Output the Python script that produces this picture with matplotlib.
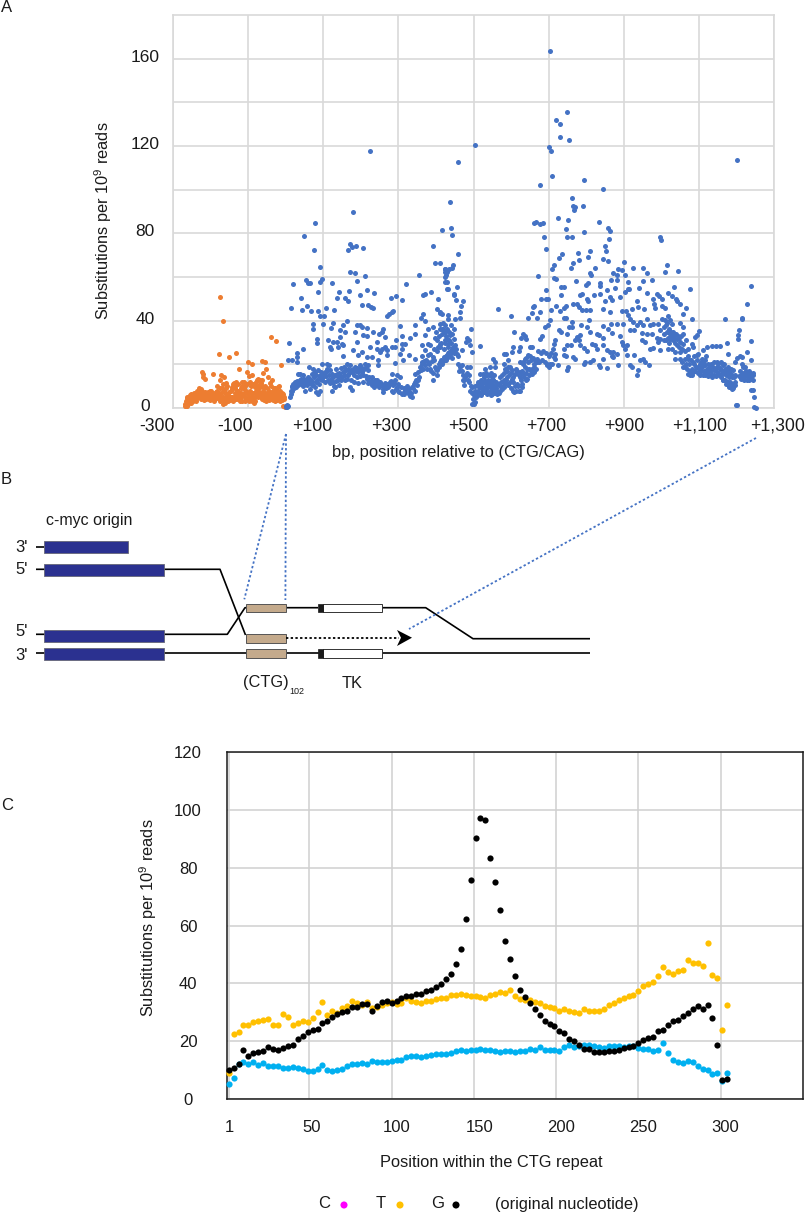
import matplotlib
matplotlib.use('Agg')
import matplotlib.pyplot as plt
from matplotlib.patches import Rectangle, Polygon
from matplotlib.transforms import ScaledTranslation

plt.rcParams['font.family'] = ['Liberation Sans', 'DejaVu Sans']
plt.rcParams['mathtext.default'] = 'regular'

# Panel A, upstream of the repeat
orange_pts = [(-268,2),(-267,1),(-266,3),(-265,1),(-264,0.8),(-263,4.5),(-262,3),(-260,2),(-258,5),(-256,3.5),(-254,4),(-252,6.5),(-250,4),(-248,3),(-247,5.5),(-245,7),(-243,3.5),(-241,5),(-239,6),(-237,8),(-235,4.5),(-233,7.5),(-231,9),(-229,5),(-227,6.5),(-225,8.5),(-223,4.5),(-221,6),(-219,7),(-217,5),(-215,7.5),(-213,4),(-211,6),(-209,7),(-207,5),(-205,4),(-203,6),(-201,8),(-199,5),(-197,6.5),(-195,4.5),(-193,7),(-191,5.5),(-189,4),(-187,6),(-185,7.5),(-183,10),(-181,5),(-179,4.5),(-177,6.5),(-175,9),(-173,5),(-171,7),(-169,4),(-167,2),(-165,8),(-163,3),(-161,2.5),(-159,5),(-157,10),(-155,4),(-153,3),(-151,5),(-149,4),(-147,3.5),(-145,8),(-143,5),(-141,4),(-139,3),(-137,5),(-135,9),(-133,4),(-131,5),(-129,6),(-127,4),(-125,5),(-123,4.5),(-121,3),(-119,5),(-117,10),(-115,3),(-113,6),(-111,9),(-109,5),(-107,3),(-105,4),(-103,7),(-101,4),(-99,3),(-97,5),(-95,4),(-93,7),(-91,3),(-89,5),(-87,4),(-85,2.5),(-83,5),(-81,3),(-79,8),(-77,6),(-75,10),(-73,5),(-71,6),(-69,11),(-67,5),(-65,7),(-63,4),(-61,5),(-59,3.5),(-57,6),(-55,4.5),(-53,3),(-51,5),(-49,7),(-47,5),(-45,3.5),(-43,5),(-41,6.5),(-39,4),(-37,5),(-35,3.5),(-33,5.5),(-31,7),(-29,3),(-27,5),(-25,4),(-23,3.5),(-21,6),(-19,4),(-17,5),(-15,3),(-13,5),(-11,4.5),(-9,3.5),(-7,1),(-5,5),(-3,0.5),
    (-224,16.6),(-221,15.5),(-219,14),(-216,13.5),(-193,15.5),(-176,13),(-171,15),(-168,11),(-163,14),(-158,11.5),(-144,9.5),(-138,11.5),(-132,12),(-126,8),(-119,9),(-112,12),(-108,10),(-103,16.5),(-98,14.5),(-90,15),(-88,11),(-83,9.5),(-79,12),(-73,13.5),(-66,11.5),(-62,13),(-60,16),(-56,10),(-52,18),(-47,14),(-42,11.5),(-36,13),(-28,9),(-21,9.5),(-17,10),(-16,8),
    (-174,51),(-168,40),(-38,32.5),(-27,30.7),(-178,24.6),(-151,23.2),(-131,25),(-100,21),(-91,20),(-64,21.5),(-55,21),(-12,19.7),(-124,18),
    (-262,5),(-259,3.5),(-255,6),(-251,2.5),(-246,4),(-242,6.5),(-238,3),(-234,6),(-230,7),(-226,4),(-222,8),(-218,3.5),(-214,6),(-210,4.5),(-206,7.5),(-202,3.5),(-198,8),(-194,6),(-190,3),(-186,4.5),(-182,8),(-178,7),(-174,3),(-170,9),(-166,5),(-162,7),(-158,9),(-154,6),(-150,7.5),(-146,5),(-142,8.5),(-140,11),(-136,7),(-134,10),(-130,8),(-128,11),(-122,6.5),(-118,7),(-116,12),(-114,9),(-110,7),(-106,8),(-104,11),(-100,6.5),(-96,8),(-94,12),(-92,10),(-86,7),(-82,7),(-78,10),(-76,13),(-74,8),(-70,9),(-68,13),(-64,10),(-60,8),(-58,9),(-54,7),(-50,9),(-46,7),(-44,8),(-40,10),(-38,7),(-34,8),(-32,9),(-30,6),(-26,7),(-24,6),(-22,8),(-20,7),(-18,7),(-14,6),(-10,7),(-8,5),(-6,6.5),(-4,4)]

# Panel A, first part of the amplicon
blue_left = [(0,0.5),(2,1),(3,1.5),(4,0.3),(6,0.8),(7,22.1),(9,29.6),(11,5),(13,6.6),(16,8),(18,9.6),(18,21.8),(20,10.8),(24,11.5),(29,11),(29,23.4),(29,21),(31,25.2),(33,15.7),(36,12),(38,15.4),(42,13.4),(47,15),(47,26.9),(51,12.7),(51,8),(56,11.9),(60,14.2),(63,19),(64,8.9),(69,15.7),(69,10.4),(73,18),(78,16.5),(78,9.6),(82,15),(82,7.3),(87,17.3),(87,6.6),(91,13.4),(91,8),(96,20.3),(96,15.7),(100,14.2),(105,16.5),(109,20.3),(109,18),(114,19.5),(118,17.3),(122,15.7),(124,7.8),(127,11.9),(131,9.6),(136,15.7),(140,12.7),(145,15),(153,16.5),(158,12.7),(162,20.3),(167,15),(171,19.5),(171,9.6),(176,16.5),(176,8.4),(184,18.8),(189,14.2),(193,16.5),(198,19.5),(202,18),(207,15),(211,20.3),(216,13.4),(220,19.5),(220,17.3),(224,11.9),(229,14.2),(238,12.7),(242,10.4),(247,19.5),(256,10.4),(260,8.9),(269,11),(278,11.9),(282,15.7),(287,10.4),(287,7.3),(291,12.7),(296,15),(296,9.6),(300,8),(304,14.2),(309,6.6),(318,8.4),(327,6.6),(335,9.6),(337,5),(345,11.9),(345,15.7),(353,12.7),(353,16.5),(362,20.3),(371,19.5),(380,21),(384,18),(393,12.7),(402,17.3),(407,18.8),(416,20.3),(424,21.8),(433,23.4),
    (13,45.6),(20,56.6),(40,50.5),(43,44.7),(54,58.8),(57,46.9),(60,57.4),(66,57.3),(68,44.3),(73,38.3),(73,36.2),(76,72.2),(84,31.8),(84,29.8),(86,44.3),(87,53),(91,64.6),(91,57.7),(91,42.3),(98,59.2),(100,38.6),(102,42),(106,45.6),(113,31),(118,27.9),(120,36.8),(120,26.9),(124,57.3),(125,30.2),(127,39),(129,44.7),(136,50.5),(136,30.2),(140,27.9),(143,53),(145,35.6),(145,32.5),(149,29.5),(152,23.7),(153,37.9),(153,28.7),(158,50.5),(158,34.8),(162,40),(167,72.5),(167,49),(169,53.7),(171,75),(171,62.4),(176,73.7),(180,26.4),(184,61.8),(184,34.8),(187,74.2),(189,37.9),(189,30.2),(191,58),(193,24.4),(198,51.6),(198,37.9),(202,47.3),(202,37),(202,25.6),(207,73.3),(207,33.3),(211,60.5),(216,54.2),(216,36.8),(216,23.4),(217,32.8),(220,47),(224,27.9),(227,46.3),(229,23.4),(233,45.8),(233,34.8),(236,52.5),(242,30.2),(244,27.2),(247,21.8),(249,34),(251,25.6),(256,35),(256,27.2),(260,36.3),(264,32.5),(264,27.9),(269,42),(269,26.4),(269,24.1),(274,43),(280,50.2),(282,44),(282,27.9),(287,44.3),(291,27.9),(291,20.8),(293,51.1),(294,31.3),(303,24.9),(304,37.6),(309,49.6),(309,33),(309,29.2),(309,26.9),(312,22.1),(318,29.5),(320,56.6),(327,24.1),(331,32),(343,38),(345,33.7),(345,22.6),(355,60.8),(361,41.2),(362,28.7),(362,23.7),(365,51.9),(365,43),(371,52),(371,40),(371,33.3),(371,26.4),(380,36.3),(380,29.5),(384,28.7),(384,24.9),(387,53),(392,74.4),(393,37),(393,23.4),(398,66.6),(402,31),(404,45.5),(405,49.8),(411,66.6),(411,44),(411,38.6),(411,29.5),(416,43),(420,36.3),(424,63.8),(425,60),(425,34.8),(429,62.3),(429,57.7),(429,54.7),(429,31.8),(429,24.1),(436,63.8),(438,24.9)]

# Panel A, dense low band of the first part
blue_left_band = [(14,8),(17,10),(22,9),(25,12),(27,9.5),(31,12.5),(34,10.5),(37,13),(40,11),(43,12),(46,10),(49,13.5),(52,11),(55,13),(58,10.5),(61,12),(64,13.5),(67,11.5),(70,12.5),(74,10.5),(76,14),(80,12),(84,13),(88,11),(90,14.5),(94,16.5),(98,13),(102,15.5),(104,12),(107,14.5),(111,17),(112,13),(115,15),(117,11.5),(120,13.5),(123,12),(126,14),(128,10),(130,15),(133,12.5),(135,18),(138,14),(141,16),(143,10.5),(146,13),(148,18.5),(150,14),(155,19),(157,15),(160,17.5),(164,13.5),(166,18),(169,16),(173,17.5),(175,13),(178,18),(181,15),(183,12),(186,17),(190,18.5),(192,11.5),(195,18),(197,14.5),(200,19),(204,16.5),(206,12),(209,18),(213,14.5),(215,19),(218,11.5),(222,14),(226,12.5),(231,10.5),(234,12),(236,9.5),(240,11.5),(244,13),(248,9.5),(251,12),(254,11),(258,7.5),(262,10),(265,11.5),(267,9),(271,11),(273,9.5),(276,10.5),(280,12.5),(284,8),(289,11.5),(293,8.5),(298,11),(302,7.5),(306,9.5),(311,7),(314,9),(316,6.5),(320,8),(323,10),(325,7.5),(329,8.5),(332,5.5),(334,7),(339,9),(341,11),(343,8),(347,13),(350,10.5),(356,14),(358,19),(360,17.5),(364,21),(366,18),(368,21.5),(373,22),(375,18),(378,24.5),(382,20),(386,17),(389,21.5),(391,16),(395,22),(397,19),(400,18),(404,15),(409,20),(413,22),(418,21.5),(421,23.5),(426,22),(428,24),(431,25),(435,25.5),(440,26),(443,27),
    (395,27),(398,32),(401,35),(403,26),(406,28),(408,33),(412,36),(414,30),(417,34),(419,39),(421,27),(423,30),(425,38),(427,33),(430,36),(432,28),(434,35),(436,31),(439,38),(441,30),(443,34),(446,28),(448,36),(450,29)]

# Panel A, rest of the amplicon
blue_right = [(460,70.4),(424,63.8),(423,62.3),(445,65.3),(442,64.3),(428,60.8),(425,57.7),(431,54.4),(447,52.4),(449,51.6),(456,55.4),(454,49.3),(472,48.9),(467,46.6),(465,44),(465,41.2),(451,40.9),(433,42.4),(433,40.9),(411,43.5),(493,36),(482,32.2),(487,31),(480,30.2),(491,28.7),(518,28.2),(496,25.6),(469,26.4),(565,45.5),(599,42.1),(608,34.8),(631,33.7),(637,32.8),(627,32.2),(640,31.8),(605,28),(624,28),(620,26),(651,28),(655,28),(644,41.2),(655,43.7),(661,46.6),(668,41.2),(673,60.5),(693,72.7),(851,74.2),(853,71.9),(735,70.7),(727,68.9),(715,65.3),(708,63.5),(777,71.1),(810,71.8),(805,69.2),(782,68),(766,66.6),(759,64.1),(846,68.4),(859,67.2),(824,64.3),(810,62),(814,60.8),(900,66.9),(885,63.8),(896,63),(924,64.1),(950,64.3),(963,61.8),(1014,65.3),(1010,62.3),(1045,62.7),
    (713,59.5),(720,58.9),(872,62),(881,60.8),(867,58.5),(881,58.5),(903,60.8),(911,57.7),(950,58),(976,58.5),(837,57.4),(837,55.9),(804,57.4),(800,56.2),(774,58.2),(741,55.4),(734,55.4),(1035,55.4),(1077,54.7),(1017,52.8),(962,52.8),(941,55),(910,54.4),(914,54.4),(903,53),(988,52.4),(993,51.3),(979,50),(1002,49.8),(1028,51.3),(1038,50),(1043,49),(1049,47.8),(1067,45.8),(1058,43.2),(1083,40.6),(981,47.5),(983,46),(1003,46.6),(1010,46),(694,53.9),(681,49.8),(692,49.8),(699,49.8),(733,51.9),(677,44),(658,46.3),(707,44.7),(720,46.6),(741,46),(730,44.3),(747,46.9),(766,47.5),(784,51.6),(788,52.4),(775,47.8),(781,46.3),(788,44.7),(801,50),(805,49),(799,44.7),(810,45),(822,51.6),(838,52),(855,53.9),(864,50.8),(868,49.6),(877,55),(889,50.8),(851,49),(846,45.2),(863,44),(895,44.4),(906,44.3),(921,45.2),(934,49),(953,45.2),(939,46.3),(910,42.4),(917,40.9),(925,39.4),
    (740,41.4),(745,41.4),(704,40.5),(699,37.9),(691,37),(761,39.4),(755,37),(728,35.9),(733,35),(763,37),(785,37.9),(807,40.5),(803,37),(846,37.6),(865,38.7),(859,36),(869,34.5),(881,38.6),(899,38.3),(890,32.8),(828,34),(835,33.3),(846,32.2),(809,34.8),(784,33.3),(775,32.5),(748,33.7),(682,32.8),(677,31.8),(713,29.5),(718,31),(917,35.9),(926,35.6),(934,37.9),(943,39.4),(952,37.9),(961,40.9),(970,37.9),(979,38.6),(992,38.6),(1001,40.9),(1010,40.1),(1019,42),(1023,40.1),(1028,38.6),(997,35.6),(1006,37),(1014,34.8),(948,34.3),(961,34),(975,34),(988,32.2),(997,31.8),(1023,34),(1032,34.8),(1050,38.9),(1059,37),(1057,34),(1094,33.3),(1090,32.5),(1101,35.3),
    (895,30.2),(899,28.7),(908,28.7),(948,31),(957,30.2),(992,30.2),(1023,31.8),(1032,31),(1041,31.8),(1050,30.2),(1059,29.5),(1067,31),(1081,29.5),(1085,28),(970,27.2),(979,27.6),(997,26.4),(1019,27.2),(1028,27.2),(1037,25.6),(1050,25.6),(1099,24.9),(1121,28),(1134,28.4),(1145,28.4),(1156,28.2),(1176,29.8),(1170,40.9),(1214,41.4),(1216,40.9),(1229,47.5),(1239,56),(1207,35.6),(1205,33.6),(1203,31.8),(1238,30.7),(1227,25.6),(1178,24.6),(1239,21.8),(1209,23.7),(1202,23),(1214,23.4),(1197,21),
    (748,28.7),(759,28.7),(771,31),(780,31),(784,28.7),(793,27.6),(803,26),(815,29.5),(824,28.7),(828,27.2),(846,28.7),(855,26.4),(864,25.6),(872,25.6),(881,24.9),(740,27.2),(740,24.1),(745,23.7),(717,24.9),(713,23.4),(766,23.4),(771,22.6),(798,21),(793,20.3),(819,21.8),(810,21),(833,19.5),(837,18.8),(846,22.6),(855,18.5),(868,23.7),(872,23.4),(885,19.5),(903,27.2),(908,24.1),(917,19.5),(921,18.8),(928,24.1),(934,15),(939,17.3),(943,21.8),(952,22.6),(957,21),(968,19.5),
    (726,19.5),(752,19),(750,17.3),(695,19.5),(704,20.3),(717,22.6),(669,22.6),(660,20.3),(646,24.1),(637,22.6),(633,20.3),(649,18),(624,21),(602,25.6),(580,24.9),(586,24.6),(553,22.6),(558,21),(593,21.8),(593,18.8),(580,20.3),(602,17.3),(611,15.7),(624,16.5),(633,15.7),(640,12.7),(624,14.2),(615,11),(602,13.4),(589,14.2),(580,12.7),(571,14.2),(558,18.8),(544,18.8),(531,18),(518,15.7),(527,14.2),(536,15),(549,14.2),(553,12.7),(540,11.9),(527,11.9),(518,11),(509,10.4),(496,9.6),(475,10.4),(491,8),(513,8),(500,5.8),(509,7.3),(522,8.9),(531,9.6),(544,10.4),(558,9.6),(571,8),(562,6.6),(564,3.5),(549,6.6),(536,6.6),(527,7.3),(504,2.7),(500,2),(497,1.7),(580,9.6),(593,10.4),(606,8),(620,8),(628,9.6),(642,13.4),(655,15.7),(660,16.5),
    (482,18.8),(473,15),(478,14.2),(487,15),(469,19.5),(460,20.3),(491,18.8),(456,24.9),(438,24.9),(424,23.4),(411,21),(411,28),(433,29.5),(451,26.4),(420,35.6),(415,36.3),(438,33.3),(447,31.8),(424,31),
    (1063,18.8),(1072,15.7),(1077,15),(1085,16.5),(1099,18.8),(1108,22.6),(1112,21),(1117,19.5),(1121,18),(1125,16.5),(1130,18.8),(1134,15),(1139,17.3),(1148,21),(1148,16.5),(1156,18),(1161,15.7),(1165,19.5),(1170,18),(1174,16.5),(1178,18.8),(1183,15.7),(1187,14.2),(1192,17.3),(1165,12.7),(1174,11.9),(1181,9.6),(1187,8.9),(1196,10.4),(1198,1.5),(1202,1.2),(1214,15.7),(1218,18.8),(1223,16.5),(1227,15),(1231,15.7),(1236,14.2),(1245,15),(1240,8.4),(1245,8.4),(1247,5),(1246,0.5),(1252,0.2),(1072,22.6),(1085,21),(1094,24.1),(1103,20.3),(1050,22.6),(1037,22.6),(1063,22.6),(1072,27.2),(1112,26.4)]

# Panel A, dense low bands of the rest
blue_right_band = [(444,23),(448,25),(453,27),(458,24),(462,17),(464,19),(470,17),(472,13),(476,13),(479,15),(483,16),(485,13),(488,12),(493,10),(495,7),(499,4),(502,2.5),(503,8),(505,10),(507,5),(511,6),(512,12),(514,9.5),(516,7),(519,9.5),(520,13),(521,6),(523,11),(525,7.5),(526,15.5),(529,9),(530,12.5),(533,8),(534,16),(535,11),(537,9),(538,13),(539,7),(541,10),(542,15),(543,8),(545,12.5),(546,6),(547,16),(548,9),(550,11),(551,7),(552,13),(554,8),(555,15),(556,10.5),(557,7),(560,12),(561,9),(563,8),(566,11),(568,7),(570,10),(573,12),(575,8.5),(577,15),(578,10),(582,16),(584,11.5),(585,18),(587,13),(590,17),(591,11),(594,15),(596,12),(597,19),(599,9),(601,16),(604,12),(606,14),(608,7.5),(610,10),(612,18),(614,8),(617,17),(618,10),(621,15),(623,8),(626,13),(629,11),(630,17),(632,21),(635,14),(636,19),(639,16),(641,23),(643,18),(645,21),(647,15),(650,24),(652,17),(654,22),(657,18),(659,23),(662,19),(664,22),(666,18),(670,21),(672,26),(675,21),(679,25),(683,22),(686,26),(690,21),(693,25),(697,20),(700,24),(702,19),(706,25),(710,20),(712,27),
    (1012,38),(1016,39),(1020,36),(1025,35),(1027,33),(1030,32),(1034,33),(1036,30),(1039,34),(1042,29),(1044,33),(1046,28),(1048,32),(1052,33),(1055,27),(1006,34),(1008,31),(1012,31),(1017,32),(1021,30),
    (1054,21),(1058,19),(1062,26),(1066,20),(1068,18),(1070,24),(1074,20),(1076,17),(1079,22),(1081,18),(1083,15),(1087,20),(1088,24),(1090,17),(1092,19),(1096,22),(1097,16),(1101,18),(1103,15),(1105,21),(1106,17),(1109,19),(1110,15),(1113,17),(1115,22),(1116,15),(1118,24),(1120,16),(1123,20),(1124,14.5),(1127,18),(1128,15),(1131,20),(1133,17),(1135,14),(1137,19),(1140,15),(1141,21),(1143,18),(1145,14.5),(1147,19),(1150,16),(1152,20),(1154,15),(1155,18.5),(1158,14),(1159,21),(1162,17),(1163,13),(1167,16),(1168,20),(1169,13),(1172,15),(1173,11),(1176,17),(1177,12),(1179,14),(1180,10),(1182,17),(1184,12),(1185,18),(1186,10),(1188,15),(1189,11),(1191,9),(1193,14),(1195,12),(1197,15),(1208,14.5),(1210,17),(1212,13.5),(1215,20),(1217,14),(1219,16),(1221,13),(1222,19),(1224,14.5),(1226,17),(1228,13),(1230,16),(1232,14),(1233,17),(1234,13),(1237,16),(1238,13.5),(1241,15.5),(1243,16),(1244,13)]

# Panel A, high outliers
blue_top = [(48,78.8),(79,84.6),(178,89.7),(224,117.6),(703,163.7),(750,135.5),(720,132),(731,130),(731,123.9),(755,122.7),(700,119.5),(705,117.8),(504,120.4),(459,112.5),(1202,113.4),(709,106.4),(677,102),(794,104.4),(845,100.3),(437,94.5),(762,96.3),(765,92.5),(771,92),(768,90.8),(791,92.5),(726,87.2),(752,86),(662,84.6),(666,85.3),(676,84.3),(686,84.6),(833,85.2),(747,82),(794,80.8),(857,82.3),(864,81),(417,81.7),(439,82.3),(443,79.4),(689,78.2),(748,78.2),(763,78.2),(860,77.3),(997,78.5),(1000,76.8)]

a_xticks = [-300, -100, 100, 300, 500, 700, 900, 1100, 1300]
a_xlabels = ['-300', '-100', '+100', '+300', '+500', '+700', '+900', '+1,100', '+1,300']

# Panel C, one value per third position
positions = list(range(1, 305, 3))
c_black = [9.9,10.7,12.1,16.8,14.9,15.9,16.1,16.5,18.0,17.3,16.8,17.6,18.2,18.6,20.6,21.7,23.1,23.8,24.1,26.2,27.1,28.3,29.3,30.2,30.6,31.9,31.9,32.8,33.0,30.6,32.3,33.7,33.9,33.3,33.9,34.9,35.6,35.6,36.4,36.4,37.5,37.7,38.8,39.8,41.5,43.3,46.7,51.8,62.4,75.8,90.2,97.1,96.4,83.4,75.1,65.2,54.6,48.4,42.6,37.7,
    35.2,33.2,31.1,29.1,27.0,26.0,25.3,23.6,22.8,20.9,20.1,18.8,17.4,17.2,16.4,16.4,16.4,16.7,16.7,17.1,17.8,18.1,18.3,19.5,20.5,21.2,21.6,23.5,23.9,25.6,27.0,27.3,28.6,29.8,31.1,32.2,31.1,32.5,28.0,18.8,6.5,6.8]
c_yellow = [9.0,22.4,23.1,25.7,25.7,26.5,26.9,27.2,27.5,25.7,25.7,29.5,28.5,25.7,26.2,27.1,26.8,27.9,30.2,33.7,29.2,30.6,29.9,31.3,32.3,34.0,33.2,32.6,33.7,31.6,31.9,32.6,33.2,33.7,32.9,33.3,34.9,33.9,33.7,33.3,34.0,33.9,34.7,34.9,34.9,36.0,35.8,36.3,36.0,35.6,35.6,35.4,35.1,35.8,36.3,37.0,36.7,37.7,35.5,34.6,
    34.3,34.3,33.6,33.1,32.2,31.8,31.5,30.6,31.1,30.4,30.1,29.8,31.1,30.4,30.4,30.4,31.1,32.5,33.2,34.3,34.9,35.6,36.0,37.4,39.1,39.7,40.5,42.4,45.6,43.8,43.1,44.2,44.5,48.0,46.9,46.9,45.9,54.1,42.8,41.8,24.0,32.5]
c_blue = [5.3,7.3,12.2,12.8,12.1,12.7,11.8,12.3,11.4,11.3,11.3,10.7,10.7,11.1,10.7,10.4,9.7,9.7,10.4,11.6,10.0,9.7,10.0,10.4,11.4,12.1,12.1,12.3,12.1,13.0,12.8,12.8,12.8,13.1,13.5,13.5,14.5,14.9,14.9,14.5,14.9,15.2,15.6,15.6,15.6,15.9,16.6,17.0,16.6,17.0,17.0,17.3,17.0,17.0,16.6,16.3,16.6,16.6,
    16.4,16.7,16.7,17.4,17.1,18.1,17.1,17.1,17.1,16.7,18.1,18.8,18.1,18.5,18.8,18.8,18.5,18.1,17.8,18.5,18.5,18.5,18.0,18.5,18.5,17.8,17.4,17.4,16.7,17.1,19.5,16.0,13.6,12.9,12.6,13.3,12.9,11.5,10.5,10.2,8.5,8.9,6.1,8.9]
c_xticks = [1, 50, 100, 150, 200, 250, 300]
c_yticks = [0, 20, 40, 60, 80, 100, 120]

W, H = 805, 1214
fig = plt.figure(figsize=(W / 100, H / 100), dpi=100)


def px_axes(left, top, right, bottom):
    return fig.add_axes([left / W, 1 - bottom / H, (right - left) / W, (bottom - top) / H])


def shift(label, dx, dy):
    # move a tick label by some pixels
    label.set_transform(label.get_transform() + ScaledTranslation(dx / 100, -dy / 100, fig.dpi_scale_trans))


# Panel A
ax = px_axes(173, 15, 774, 408)
grid_a = '#D9D9D9'
for pts, col in [(orange_pts, '#ED7D31'), (blue_left, '#4472C4'), (blue_left_band, '#4472C4'),
                 (blue_right, '#4472C4'), (blue_right_band, '#4472C4'), (blue_top, '#4472C4')]:
    xs, ys = zip(*pts)
    ax.scatter(xs, ys, s=13, color=col, linewidths=0, zorder=3, clip_on=False)
ax.set_xlim(-300, 1300)
ax.set_ylim(0, 180)
ax.set_xticks(a_xticks)
ax.set_xticklabels(a_xlabels, fontsize=12.7)
ax.set_yticks(range(0, 180, 20))
ax.set_yticklabels(['0', '', '40', '', '80', '', '120', '', '160'], fontsize=12.5, ha='center')
ax.tick_params(length=0, axis='y', pad=20, colors='#1a1a1a')
ax.tick_params(length=0, axis='x', pad=7, colors='#1a1a1a')
ax.grid(True, color=grid_a, lw=1.2)
ax.set_axisbelow(True)
for s in ax.spines.values():
    s.set_color(grid_a)
    s.set_linewidth(1.2)
for lab, dx in zip(ax.get_xticklabels(), [-16, -13, -11, -7, -5, -2, 0, 1, 4]):
    shift(lab, dx, 0)
for lab in ax.get_yticklabels():
    shift(lab, 0, -3)

# Panel C
ax2 = px_axes(227, 752, 803, 1099)
ax2.scatter(positions, c_blue, s=20, color='#00B0F0', linewidths=0, zorder=3, clip_on=False)
ax2.scatter(positions, c_yellow, s=20, color='#FFC000', linewidths=0, zorder=4, clip_on=False)
ax2.scatter(positions, c_black, s=20, color='black', linewidths=0, zorder=5, clip_on=False)
ax2.set_xlim(0, 350)
ax2.set_ylim(0, 120)
ax2.set_xticks(c_xticks)
ax2.set_xticklabels([str(t) for t in c_xticks], fontsize=12)
ax2.set_yticks(c_yticks)
ax2.set_yticklabels([str(t) for t in c_yticks], fontsize=12, ha='center')
ax2.tick_params(length=0, axis='y', pad=28, colors='#1a1a1a')
ax2.tick_params(length=0, axis='x', pad=15, colors='#1a1a1a')
ax2.grid(True, color='#D0D0D0', lw=1.1)
ax2.set_axisbelow(True)
for s in ax2.spines.values():
    s.set_color('#1a1a1a')
    s.set_linewidth(1.1)
for lab, dx in zip(ax2.get_xticklabels(), [1, 2, 5, 6, 5, 5, 4]):
    shift(lab, dx, 0)

# Everything else goes on a full-figure layer in pixels
ov = fig.add_axes([0, 0, 1, 1], zorder=10)
ov.set_xlim(0, W)
ov.set_ylim(H, 0)
ov.axis('off')
ov.patch.set_alpha(0)


def label(x, y, s, size=12, **kw):
    kw.setdefault('ha', 'center')
    kw.setdefault('va', 'center')
    ov.text(x, y, s, fontsize=size, color='#1a1a1a', **kw)


label(1, 8, 'A', 12, ha='left')
label(1, 480, 'B', 12, ha='left')
label(1, 806, 'C', 12, ha='left')
ylab = r'Substitutions per 10$^{9}$ reads'
label(103, 221, ylab, 11.8, rotation=90)
label(148, 918, ylab, 11.8, rotation=90)
label(458, 452, 'bp, position relative to (CTG/CAG)', 11.9)
label(491, 1163, 'Position within the CTG repeat', 11.8)

# Legend of panel C
label(324, 1204, 'C', 12)
label(381, 1204, 'T', 12)
label(438, 1204, 'G', 12)
label(495, 1204, '(original nucleotide)', 11.8, ha='left')
ov.scatter([344, 400, 456], [1205, 1205, 1205], s=26, color=['#FF00FF', '#FFC000', 'black'], linewidths=0)

# Panel B schematic
navy = '#2B3190'
tan = '#C4AA8C'
line = dict(color='black', lw=1.2, solid_capstyle='butt', zorder=2)
ov.plot([36, 44], [547, 547], **line)
ov.plot([36, 164, 220, 245.5], [569.3, 569.3, 569.3, 635], **line)
ov.plot([36, 227.3, 245, 318], [634.3, 634.3, 607.7, 607.7], **line)
ov.plot([382, 425.7, 473, 590], [607.7, 607.7, 638.7, 638.7], **line)
ov.plot([36, 590], [653.3, 653.3], **line)

for top, x1 in [(541, 128), (564, 164), (630.3, 164), (648, 164)]:
    ov.add_patch(Rectangle((44, top), x1 - 44, 11.6, fc=navy, ec='#666677', lw=0.6, zorder=3))
for top in [604, 634.3, 649.3]:
    ov.add_patch(Rectangle((245.5, top), 40, 8.4, fc=tan, ec='#555555', lw=0.7, zorder=3))
for top in [603.7, 649.3]:
    ov.add_patch(Rectangle((323.3, top), 58.5, 8.2, fc='white', ec='#333333', lw=0.7, zorder=3))
    ov.add_patch(Rectangle((318, top), 5.3, 8.2, fc='#1a1a1a', ec='#1a1a1a', lw=0.5, zorder=3))

# dotted arrow
ov.plot([286, 399], [637.7, 637.7], color='black', lw=1.3, ls=(0, (1.3, 1.3)), zorder=3)
ov.add_patch(Polygon([[397, 630], [412, 637.7], [397, 646], [401, 637.7]], fc='black', ec='none', zorder=3))

# guides from panel A down to the diagram
dots = dict(color='#4472C4', lw=1.3, ls=(0, (1.3, 1.3)), zorder=4)
ov.plot([286, 244.3], [434, 599.3], **dots)
ov.plot([286, 285.4], [434, 600], **dots)
ov.plot([756, 409], [438, 629], **dots)

label(46, 520, 'c-myc origin', 11.5, ha='left')
for y, s in [(547, "3'"), (569.3, "5'"), (632, "5'"), (656, "3'")]:
    label(15, y, s, 12, ha='left')
label(243, 683, '(CTG)', 11.8, ha='left')
label(289, 691, '102', 6.5, ha='left')
label(352, 683, 'TK', 11.8)

fig.savefig('out.png', dpi=100)
